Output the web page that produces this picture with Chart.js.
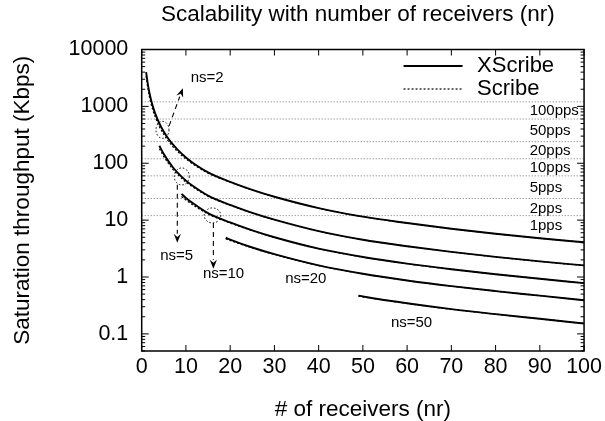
<!DOCTYPE html>
<html><head><meta charset="utf-8">
<script src="https://cdn.jsdelivr.net/npm/chart.js@4.4.1/dist/chart.umd.min.js"></script>
<style>html,body{margin:0;padding:0;background:#fff;}</style>
</head><body>
<canvas id="c" width="605" height="421"></canvas>
<script>
// ---------- data ----------
const chartTitle = 'Scalability with number of receivers (nr)';
const xTitle = '# of receivers (nr)';
const yTitle = 'Saturation throughput (Kbps)';
const xTickValues = [0,10,20,30,40,50,60,70,80,90,100];
const yTickValues = [0.1,1,10,100,1000,10000];
const legendLabels = ['XScribe','Scribe'];

const nrNs2 = [1,1.5,2,2.5,3,4,5,6,7,8,10,12,15,20,25,30,40,50,60,70,80,90,100];
const xscribeNs2 = [4000,2180,1420,1010,770,500,358,272,216,177,126,96,69,47,34,25.8,16.3,11.5,8.9,7.05,5.75,4.8,4.08];
const scribeNs2  = [3400,1850,1200,870,670,440,320,246,198,164,119,92,67,46.4,33.7,25.6,16.2,11.45,8.88,7.03,5.74,4.79,4.07];

const nrNs5 = [4,5,6,7,8,10,12,15,20,25,30,40,50,60,70,80,90,100];
const xscribeNs5 = [203,145,110,86,70,49.5,37.8,27,18.5,13.4,10.2,6.4,4.52,3.48,2.77,2.26,1.88,1.6];
const scribeNs5  = [180,131,100,79,65,46.8,36.3,26.3,18.2,13.3,10.1,6.37,4.5,3.47,2.76,2.25,1.88,1.59];

const nrNs10 = [9,10,12,15,20,25,30,40,50,60,70,80,90,100];
const xscribeNs10 = [29,24.5,18.8,13.3,9.1,6.6,5.0,3.15,2.25,1.72,1.37,1.12,0.93,0.78];
const scribeNs10  = [26,22.5,17.6,12.8,8.9,6.5,4.96,3.13,2.24,1.71,1.37,1.12,0.93,0.78];

const nrNs20 = [19,20,25,30,40,50,60,70,80,90,100];
const xscribeNs20 = [4.9,4.55,3.3,2.52,1.6,1.14,0.87,0.69,0.565,0.47,0.39];
const scribeNs20  = [4.65,4.38,3.24,2.49,1.59,1.135,0.867,0.69,0.565,0.47,0.39];

const nrNs50 = [49,50,60,70,80,90,100];
const xscribeNs50 = [0.47,0.455,0.345,0.272,0.222,0.184,0.152];
const scribeNs50  = [0.46,0.448,0.343,0.271,0.222,0.184,0.152];

// packet-rate reference lines (Kbps) and their labels
const ppsNames  = ['100pps','50pps','20pps','10pps','5pps','2pps','1pps'];
const ppsKbps   = [1200,600,240,120,60,24,12];
const ppsLabelY = [830,370,165,82,37,16,7.8];
const ppsLabelX = 87.7;

// annotations (data coordinates)
const nsLabels = [
  {text:'ns=2',  x:14.8, y:3160},
  {text:'ns=5',  x:7.9,  y:2.38},
  {text:'ns=10', x:18.5, y:1.15},
  {text:'ns=20', x:37.1, y:0.93},
  {text:'ns=50', x:61.0, y:0.159}
];
const nsArrows = [
  {x1:6.2,  y1:455, x2:9.3,  y2:2090},
  {x1:8.05, y1:42,  x2:8.05, y2:4.0},
  {x1:16.2, y1:8.9, x2:16.2, y2:1.4}
];
const nsEllipses = [
  {x:4.7,  y:387,  rx:6.5, ry:8.5},
  {x:9.06, y:58.6, rx:7.5, ry:8.5},
  {x:16.0, y:12.1, rx:8.3, ry:7.5}
];

// ---------- chart ----------
const FONT = "'Liberation Sans', Arial, Helvetica, sans-serif";
Chart.defaults.font.family = FONT;
Chart.defaults.color = '#000';

const pts = (xs, ys) => xs.map((x, i) => ({x: x, y: ys[i]}));
const solid = (xs, ys) => ({data: pts(xs, ys), borderColor:'#000', borderWidth:1.9, pointRadius:0,
  cubicInterpolationMode:'monotone', fill:false, order:1});
const dashed = (xs, ys) => ({data: pts(xs, ys), borderColor:'#000', borderWidth:1.2, borderDash:[2,2],
  pointRadius:0, cubicInterpolationMode:'monotone', fill:false, order:2});

const datasets = [];
ppsKbps.forEach(v => datasets.push({data:[{x:0,y:v},{x:100,y:v}], borderColor:'rgba(0,0,0,0.55)',
  borderWidth:1, borderDash:[1,2], pointRadius:0, fill:false, order:3}));
datasets.push(dashed(nrNs2, scribeNs2), dashed(nrNs5, scribeNs5), dashed(nrNs10, scribeNs10),
  dashed(nrNs20, scribeNs20), dashed(nrNs50, scribeNs50));
datasets.push(solid(nrNs2, xscribeNs2), solid(nrNs5, xscribeNs5), solid(nrNs10, xscribeNs10),
  solid(nrNs20, xscribeNs20), solid(nrNs50, xscribeNs50));

const decorPlugin = {
  id:'decor',
  afterDatasetsDraw(chart) {
    const {ctx, chartArea:{left,right,top,bottom}, scales:{x,y}} = chart;
    const line = (a,b,c,d) => { ctx.beginPath(); ctx.moveTo(a,b); ctx.lineTo(c,d); ctx.stroke(); };
    ctx.save();
    // title
    ctx.fillStyle = '#000'; ctx.font = '22.5px ' + FONT; ctx.textAlign = 'center'; ctx.textBaseline = 'middle';
    ctx.fillText(chartTitle, (left + right) / 2 - 5, 15);
    // frame
    ctx.strokeStyle = '#000'; ctx.lineWidth = 1.5; ctx.setLineDash([]);
    ctx.strokeRect(left, top, right-left, bottom-top);
    ctx.lineWidth = 1;
    xTickValues.forEach(v => { const p = x.getPixelForValue(v); line(p,bottom,p,bottom-6); line(p,top,p,top+6); });
    for (let d = -2; d <= 4; d++) {
      for (let m = 1; m <= 9; m++) {
        const v = m * Math.pow(10, d);
        if (v < y.min || v > y.max) continue;
        const p = y.getPixelForValue(v);
        const len = m === 1 ? 7 : 3.5;
        line(left,p,left+len,p); line(right,p,right-len,p);
      }
    }
    // pps labels
    ctx.font = '15px ' + FONT; ctx.textAlign = 'left'; ctx.textBaseline = 'middle';
    ppsNames.forEach((t,i) => ctx.fillText(t, x.getPixelForValue(ppsLabelX), y.getPixelForValue(ppsLabelY[i])));
    // ns labels
    ctx.textAlign = 'center';
    nsLabels.forEach(l => ctx.fillText(l.text, x.getPixelForValue(l.x), y.getPixelForValue(l.y)));
    // arrows
    ctx.lineWidth = 1.1;
    nsArrows.forEach(a => {
      const x1 = x.getPixelForValue(a.x1), y1 = y.getPixelForValue(a.y1);
      const x2 = x.getPixelForValue(a.x2), y2 = y.getPixelForValue(a.y2);
      const ang = Math.atan2(y2-y1, x2-x1), L = 9, W = 3.6;
      const bx = x2 - L*Math.cos(ang), by = y2 - L*Math.sin(ang);
      ctx.setLineDash([5,4]); line(x1,y1,bx,by); ctx.setLineDash([]);
      ctx.beginPath(); ctx.moveTo(x2,y2);
      ctx.lineTo(bx + W*Math.sin(ang), by - W*Math.cos(ang));
      ctx.lineTo(bx + 0.35*L*Math.cos(ang), by + 0.35*L*Math.sin(ang));
      ctx.lineTo(bx - W*Math.sin(ang), by + W*Math.cos(ang));
      ctx.closePath(); ctx.fill();
    });
    // ellipses
    ctx.setLineDash([1.5,2]); ctx.lineWidth = 1;
    nsEllipses.forEach(e => { ctx.beginPath();
      ctx.ellipse(x.getPixelForValue(e.x), y.getPixelForValue(e.y), e.rx, e.ry, 0, 0, Math.PI*2); ctx.stroke(); });
    // legend
    ctx.font = '22px ' + FONT; ctx.textAlign = 'left';
    const styles = [{w:1.8, dash:[]},{w:1.2, dash:[2,2]}];
    legendLabels.forEach((t,i) => {
      const ly = top + 16.5 + i*23;
      ctx.setLineDash(styles[i].dash); ctx.lineWidth = styles[i].w;
      line(right-180.5, ly, right-121.5, ly);
      ctx.fillText(t, right-107, ly);
    });
    ctx.restore();
  }
};

new Chart(document.getElementById('c'), {
  type:'line',
  data:{datasets},
  plugins:[decorPlugin],
  options:{
    responsive:false, animation:false, devicePixelRatio:1,
    layout:{padding:{left:0, right:20.5, top:49.5, bottom:0}},
    plugins:{ legend:{display:false}, tooltip:{enabled:false}, title:{display:false} },
    scales:{
      x:{type:'linear', min:0, max:100,
        afterBuildTicks: s => { s.ticks = xTickValues.map(v => ({value:v})); },
        ticks:{font:{size:21.5}, color:'#000', padding:3, maxRotation:0, autoSkip:false},
        grid:{display:false, drawTicks:false}, border:{display:false},
        title:{display:true, text:xTitle, color:'#000', font:{size:22.5, lineHeight:1}, padding:{top:0, bottom:0}},
        afterFit: s => { s.height = 70; }
      },
      y:{type:'logarithmic', min:0.05, max:10000,
        afterBuildTicks: s => { s.ticks = yTickValues.map(v => ({value:v})); },
        ticks:{font:{size:21.5}, color:'#000', padding:13.4, callback: v => String(v)},
        grid:{display:false, drawTicks:false}, border:{display:false},
        title:{display:true, text:yTitle, color:'#000', font:{size:22.5, lineHeight:1.2}, padding:{top:9, bottom:0}},
        afterFit: s => { s.width = 141.7; }
      }
    }
  }
});
</script>
</body></html>
